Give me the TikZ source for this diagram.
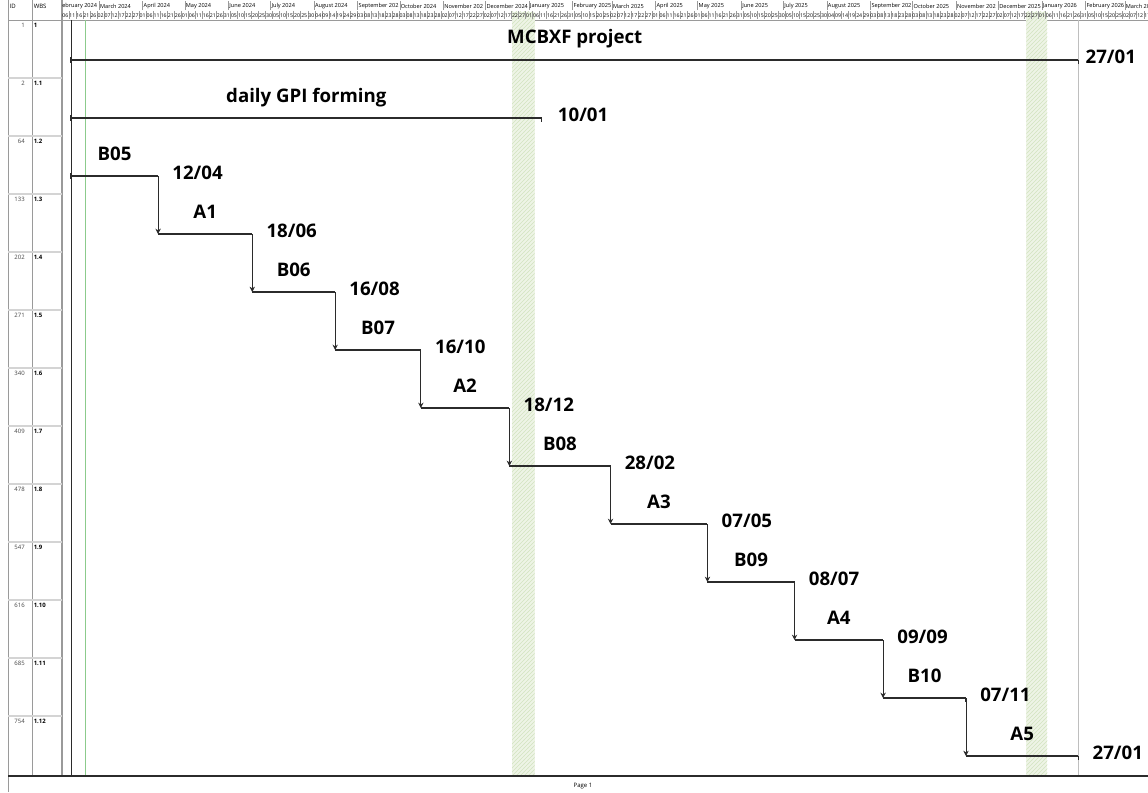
\documentclass[tikz,border=0pt]{standalone}
\usepackage{fontspec}
\setmainfont{Open Sans}
\usepackage{pgfcalendar}
\usetikzlibrary{arrows.meta, positioning, calc, patterns}
\definecolor{ganttBar}{HTML}{2B2B2B}
\definecolor{ganttGrid}{HTML}{9A9A9A}
\definecolor{ganttRow}{HTML}{D4D4D4}
\definecolor{ganttHoliday}{HTML}{EEF4E6}
\definecolor{ganttHatch}{HTML}{D2E3C0}
\definecolor{ganttToday}{HTML}{8CCB8C}
\definecolor{ganttFinish}{HTML}{BEBEBE}
\definecolor{ganttId}{HTML}{444444}
\newcount\ganttjul

\begin{document}
\begin{tikzpicture}[
        x=0.75pt, y=-0.75pt,
        smalltext/.style={font=\fontsize{4.5}{5}\selectfont, inner sep=0pt},
        monthtext/.style={font=\fontsize{4.2}{5}\selectfont, inner sep=0pt},
        daytext/.style={font=\fontsize{3.9}{4.5}\selectfont, inner sep=0pt},
        tasklabel/.style={font=\bfseries\fontsize{14}{16}\selectfont, anchor=base, inner sep=0pt},
        datelabel/.style={tasklabel, anchor=base west, xshift=10.5pt},
        taskbar/.style={line width=1.2pt, draw=ganttBar},
        endtick/.style={line width=0.8pt, draw=ganttBar},
        starttick/.style={line width=1.6pt, draw=ganttBar},
        dep/.style={line width=0.6pt, draw=ganttBar, -{Stealth[length=4pt, width=4pt]}},
        tablerule/.style={line width=0.6pt, draw=ganttGrid}
    ]
    \useasboundingbox (0,0) rectangle (1148,792);
    \pgfcalendardatetojulian{2024-02-06}{\ganttjul}

    % --- table columns (ID / WBS) ---
    \draw[tablerule] (8,0) -- (8,792);
    \draw[tablerule] (32,0) -- (32,776);
    \draw[ganttGrid, line width=1.2pt] (62,0) -- (62,776);
    \draw[tablerule] (8,20) -- (1148,20);
    \foreach \r in {1,...,12}
        \draw[ganttRow, line width=0.8pt] (8,{20+58*\r}) -- (62,{20+58*\r});
    \node[smalltext, anchor=west] (hid) at (9.5,6) {ID};
    \node[smalltext, anchor=west] (hwbs) at (33.5,6) {WBS};
    \foreach \i/\w [count=\r] in {1/1, 2/1.1, 64/1.2, 133/1.3, 202/1.4, 271/1.5, 340/1.6,
            409/1.7, 478/1.8, 547/1.9, 616/1.10, 685/1.11, 754/1.12} {
        \node[smalltext, anchor=east, text=ganttId] (id\r) at (25,{25.5+58*(\r-1)}) {\i};
        \node[smalltext, anchor=west, font=\bfseries\fontsize{4.5}{5}\selectfont] (w\r) at (33.5,{25.5+58*(\r-1)}) {\w};
    }

    % --- timeline, one unit = one day from 10/02/2024 ---
    \begin{scope}[xshift=53.25pt, x=1.05375pt]
        % holiday breaks
        \fill[ganttHoliday] (314,12) rectangle (330,776);
        \fill[pattern=north east lines, pattern color=ganttHatch] (314,12) rectangle (330,776);
        \fill[ganttHoliday] (680,12) rectangle (695,776);
        \fill[pattern=north east lines, pattern color=ganttHatch] (680,12) rectangle (695,776);

        % month and day scale
        \begin{scope}
            \clip (-6.4,0) rectangle (766.5,20);
            \foreach \d/\m [count=\i] in {-9/February 2024, 20/March 2024, 51/April 2024,
                    81/May 2024, 112/June 2024, 142/July 2024, 173/August 2024,
                    204/September 202, 234/October 2024, 265/November 202, 295/December 2024,
                    326/January 2025, 357/February 2025, 385/March 2025, 416/April 2025,
                    446/May 2025, 477/June 2025, 507/July 2025, 538/August 2025,
                    569/September 202, 599/October 2025, 630/November 202, 660/December 2025,
                    691/January 2026, 722/February 2026, 750/March 2026} {
                \draw[ganttGrid, line width=0.4pt] (\d,1.5) -- (\d,10);
                \node[monthtext, anchor=west, xshift=0.6pt] (m\i) at (\d,6) {\m};
            }
            \foreach \k in {0,...,154} {
                \pgfcalendarjuliantodate{\the\numexpr\ganttjul+5*\k\relax}{\tkyear}{\tkmonth}{\tkday}
                \node[daytext] (day\k) at ({-4+5*\k},15.5) {\ifnum\tkday<10 0\fi\number\tkday};
                \draw[ganttGrid, line width=0.35pt] ({-1.5+5*\k},11) -- ({-1.5+5*\k},19.5);
            }
        \end{scope}

        % status, start and finish lines
        \draw[ganttToday, line width=0.75pt] (10,20) -- (10,776);
        \draw[ganttBar, line width=0.5pt] (0,20) -- (0,776);
        \draw[ganttFinish, line width=1.1pt] (717,20) -- (717,776);

        % --- 1 / 1.1: summary rows ---
        \coordinate (s1) at (0,60);    \coordinate (e1) at (717,60);
        \draw[taskbar] (s1) -- (e1);
        \node[tasklabel] (n1) at ($(s1)!.5!(e1)+(0,-16)$) {MCBXF project};
        \node[datelabel, xshift=-5.25pt] (d1) at ($(e1)+(0,3.5)$) {27/01};

        \coordinate (s2) at (0,118);   \coordinate (e2) at (335,118);
        \draw[taskbar] (s2) -- (e2);
        \node[tasklabel] (n2) at ($(s2)!.5!(e2)+(0,-16)$) {daily GPI forming};
        \node[datelabel, xshift=1.5pt] (d2) at ($(e2)+(0,3.5)$) {10/01};

        % --- 1.2 .. 1.12: forming steps ---
        \coordinate (s3) at (0,176);   \coordinate (e3) at (62,176);
        \draw[taskbar] (s3) -- (e3);
        \node[tasklabel] (n3) at ($(s3)!.5!(e3)+(0,-16)$) {B05};
        \node[datelabel] (d3) at ($(e3)+(0,3.5)$) {12/04};

        \coordinate (s4) at (62,234);  \coordinate (e4) at (129,234);
        \draw[taskbar] (s4) -- (e4);
        \node[tasklabel] (n4) at ($(s4)!.5!(e4)+(0,-16)$) {A1};
        \node[datelabel] (d4) at ($(e4)+(0,3.5)$) {18/06};

        \coordinate (s5) at (129,292); \coordinate (e5) at (188,292);
        \draw[taskbar] (s5) -- (e5);
        \node[tasklabel] (n5) at ($(s5)!.5!(e5)+(0,-16)$) {B06};
        \node[datelabel] (d5) at ($(e5)+(0,3.5)$) {16/08};

        \coordinate (s6) at (188,350); \coordinate (e6) at (249,350);
        \draw[taskbar] (s6) -- (e6);
        \node[tasklabel] (n6) at ($(s6)!.5!(e6)+(0,-16)$) {B07};
        \node[datelabel] (d6) at ($(e6)+(0,3.5)$) {16/10};

        \coordinate (s7) at (249,408); \coordinate (e7) at (312,408);
        \draw[taskbar] (s7) -- (e7);
        \node[tasklabel] (n7) at ($(s7)!.5!(e7)+(0,-16)$) {A2};
        \node[datelabel] (d7) at ($(e7)+(0,3.5)$) {18/12};

        \coordinate (s8) at (312,466); \coordinate (e8) at (384,466);
        \draw[taskbar] (s8) -- (e8);
        \node[tasklabel] (n8) at ($(s8)!.5!(e8)+(0,-16)$) {B08};
        \node[datelabel] (d8) at ($(e8)+(0,3.5)$) {28/02};

        \coordinate (s9) at (384,524); \coordinate (e9) at (453,524);
        \draw[taskbar] (s9) -- (e9);
        \node[tasklabel] (n9) at ($(s9)!.5!(e9)+(0,-16)$) {A3};
        \node[datelabel] (d9) at ($(e9)+(0,3.5)$) {07/05};

        \coordinate (s10) at (453,582); \coordinate (e10) at (515,582);
        \draw[taskbar] (s10) -- (e10);
        \node[tasklabel] (n10) at ($(s10)!.5!(e10)+(0,-16)$) {B09};
        \node[datelabel] (d10) at ($(e10)+(0,3.5)$) {08/07};

        \coordinate (s11) at (515,640); \coordinate (e11) at (578,640);
        \draw[taskbar] (s11) -- (e11);
        \node[tasklabel] (n11) at ($(s11)!.5!(e11)+(0,-16)$) {A4};
        \node[datelabel] (d11) at ($(e11)+(0,3.5)$) {09/09};

        \coordinate (s12) at (578,698); \coordinate (e12) at (637,698);
        \draw[taskbar] (s12) -- (e12);
        \node[tasklabel] (n12) at ($(s12)!.5!(e12)+(0,-16)$) {B10};
        \node[datelabel] (d12) at ($(e12)+(0,3.5)$) {07/11};

        \coordinate (s13) at (637,756); \coordinate (e13) at (717,756);
        \draw[taskbar] (s13) -- (e13);
        \node[tasklabel] (n13) at ($(s13)!.5!(e13)+(0,-16)$) {A5};
        \node[datelabel] (d13) at ($(e13)+(0,3.5)$) {27/01};

        % bar end marks and finish-to-start links
        \foreach \r in {1,2,3} \draw[starttick] ($(s\r)+(0,-3)$) -- ($(s\r)+(0,3)$);
        \foreach \r in {1,...,13} \draw[endtick] (e\r) -- ++(0,4);
        \foreach \a/\b in {3/4, 4/5, 5/6, 6/7, 7/8, 8/9, 9/10, 10/11, 11/12, 12/13}
            \draw[dep] (e\a) -- (s\b);
    \end{scope}

    % --- page footer ---
    \draw[ganttBar, line width=0.8pt] (8,776) -- (1148,776);
    \node[smalltext] (pg) at (583,786) {Page 1};
\end{tikzpicture}
\end{document}
